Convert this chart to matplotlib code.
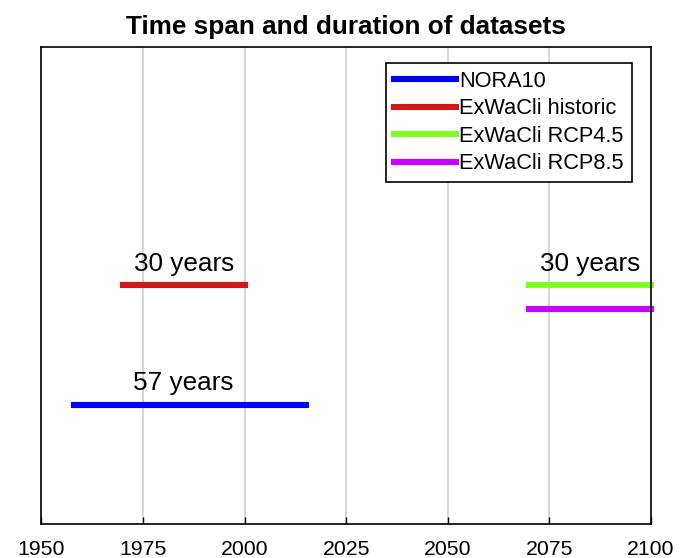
import matplotlib
matplotlib.use('Agg')
import matplotlib.pyplot as plt

plt.rcParams['font.family'] = ['Liberation Sans', 'DejaVu Sans']

# dataset spans (start year, end year) and vertical row
names = ['NORA10', 'ExWaCli historic', 'ExWaCli RCP4.5', 'ExWaCli RCP8.5']
starts = [1958, 1970, 2070, 2070]
ends = [2015, 2000, 2100, 2100]
rows = [0.25, 0.5, 0.5, 0.45]
colors = ['#0000ff', '#d01a1a', '#80ff20', '#cc00ff']

# duration labels: text, x centre, row
labels = ['57 years', '30 years', '30 years']
label_x = [1985, 1985, 2085]
label_row = [0.25, 0.5, 0.5]

xticks = [1950, 1975, 2000, 2025, 2050, 2075, 2100]

fig = plt.figure(figsize=(6.88, 5.58), dpi=100)
ax = fig.add_axes([0.0603, 0.061, 0.886, 0.855])

for name, s, e, r, c in zip(names, starts, ends, rows, colors):
    ax.plot([s, e], [r, r], color=c, lw=4.4, solid_capstyle='projecting',
            label=name, clip_on=False)

for t, x, r in zip(labels, label_x, label_row):
    ax.text(x, r + 0.02, t, ha='center', va='bottom', fontsize=18.8)

ax.set_xlim(1950, 2100)
ax.set_ylim(0, 1)
ax.set_xticks(xticks)
ax.set_yticks([])
ax.xaxis.grid(True, color='#d0d0d0', lw=1.2)
ax.set_axisbelow(True)
ax.tick_params(axis='x', direction='in', length=5, width=1, labelsize=15.3,
               pad=11.5, top=False)
for sp in ax.spines.values():
    sp.set_linewidth(1.2)
    sp.set_zorder(5)

ax.set_title('Time span and duration of datasets', fontsize=18.8,
             fontweight='bold', pad=9)

leg = ax.legend(loc='upper right', bbox_to_anchor=(0.968, 0.966),
                fontsize=15.7, handlelength=2.85, handletextpad=0.15,
                labelspacing=0.3, borderpad=0.35, fancybox=False,
                framealpha=1, edgecolor='black', borderaxespad=0)
leg.get_frame().set_linewidth(1.2)

fig.savefig('out.png', dpi=100)
